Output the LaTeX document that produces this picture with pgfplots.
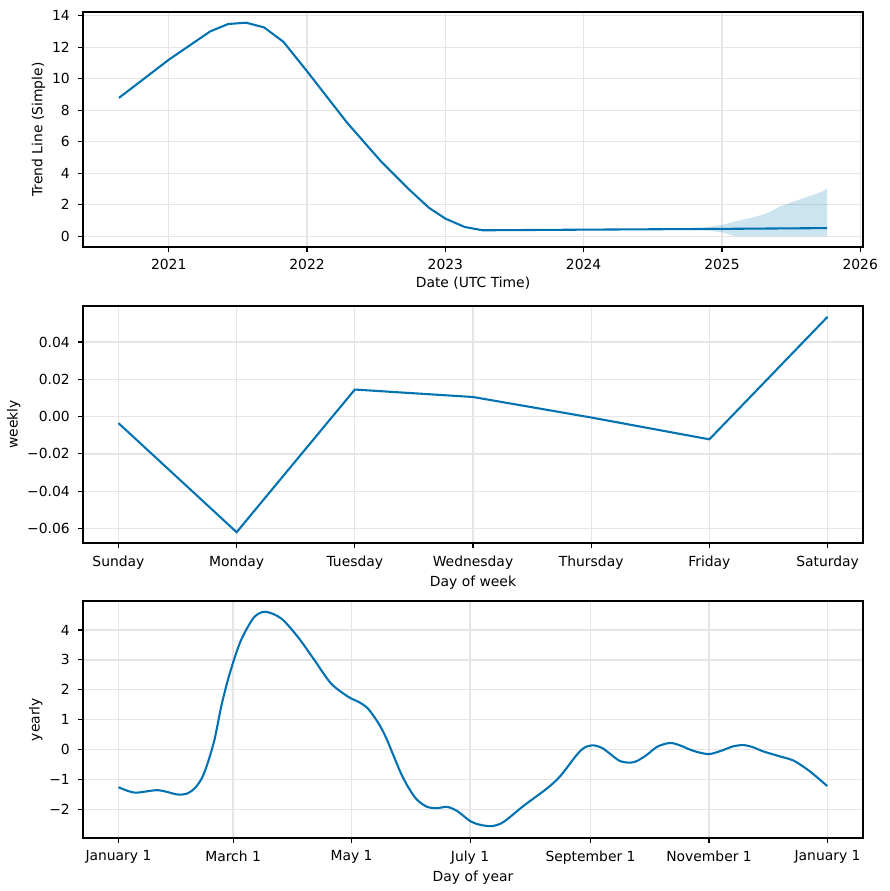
\documentclass[border=0pt]{standalone}
\usepackage{fontspec}
\setmainfont{DejaVu Sans}
\usepackage{pgfplots}
\pgfplotsset{compat=1.18}
\definecolor{pblue}{HTML}{0072B2}
\pgfplotsset{
  prophet/.style={
    scale only axis, width=561.6pt, height=170.64pt, anchor=north west,
    grid=major, major grid style={black!10, line width=0.9pt},
    axis line style={line width=0.8pt},
    tick pos=left, tick align=outside, major tick length=3.5pt,
    tick style={black, line width=0.8pt},
    /pgf/number format/assume math mode=true,
    scaled y ticks=false,
    xticklabel style={yshift=-2pt},
    yticklabel style={xshift=-2.5pt},
    xlabel style={yshift=2pt},
    ylabel style={yshift=-2pt},
  }
}
\begin{document}
\begin{tikzpicture}
\path (0,0) rectangle (640.08pt,-641.52pt);
% ---------- Trend ----------
\begin{axis}[prophet, at={(59.76pt,-8.64pt)}, height=169.2pt,
  xmin=2020.38, xmax=2026.02, ymin=-0.68, ymax=14.23,
  xtick={2021,2022,2023,2024,2025,2026},
  xticklabels={2021,2022,2023,2024,2025,2026},
  ytick={0,2,4,6,8,10,12,14},
  xlabel={Date (UTC Time)}, ylabel={Trend Line (Simple)}]
\addplot[fill=pblue, fill opacity=0.2, draw=none] coordinates {
 (2024.70,0.46) (2024.85,0.52) (2025.00,0.72) (2025.10,0.95) (2025.20,1.15)
 (2025.30,1.38) (2025.36,1.60) (2025.42,1.90) (2025.50,2.15) (2025.60,2.45)
 (2025.70,2.75) (2025.76,3.00)
 (2025.76,0.00) (2025.10,0.00) (2025.00,0.25) (2024.85,0.42) (2024.70,0.46)
} -- cycle;
\addplot[pblue, line width=1.5pt] coordinates {
 (2020.64,8.78) (2021.00,11.20) (2021.30,13.00) (2021.43,13.47) (2021.56,13.55)
 (2021.69,13.25) (2021.83,12.33) (2022.00,10.47) (2022.29,7.20) (2022.54,4.70)
 (2022.75,2.87) (2022.88,1.82) (2023.00,1.12) (2023.14,0.59) (2023.27,0.38)
 (2024.00,0.42) (2025.00,0.47) (2025.76,0.52)
};
\end{axis}
% ---------- Weekly ----------
\begin{axis}[prophet, at={(59.76pt,-220.32pt)},
  xmin=-0.3, xmax=6.3, ymin=-0.0678, ymax=0.0593,
  xtick={0,1,2,3,4,5,6},
  xticklabels={Sunday,Monday,Tuesday,Wednesday,Thursday,Friday,Saturday},
  ytick={-0.06,-0.04,-0.02,0,0.02,0.04},
  yticklabels={−0.06,−0.04,−0.02,0.00,0.02,0.04},
  xlabel={Day of week}, ylabel={weekly}]
\addplot[pblue, line width=1.5pt] coordinates {
 (0,-0.0035) (1,-0.0620) (2,0.0145) (3,0.0105) (4,-0.0005) (5,-0.0122) (6,0.0535)
};
\end{axis}
% ---------- Yearly ----------
\begin{axis}[prophet, at={(59.76pt,-432.72pt)},
  xmin=-18.25, xmax=383.25, ymin=-2.96, ymax=4.97,
  xtick={0,59,120,181,243,304,365},
  xticklabels={January 1,March 1,May 1,July 1,September 1,November 1,January 1},
  ytick={-2,-1,0,1,2,3,4},
  yticklabels={−2,−1,0,1,2,3,4},
  xlabel={Day of year}, ylabel={yearly}]
\addplot[pblue, line width=1.5pt, smooth, tension=0.5] coordinates {
 (0,-1.26) (8.4,-1.44) (20.4,-1.36) (30,-1.50) (35,-1.48) (39.2,-1.30)
 (43,-0.95) (46,-0.44) (49.5,0.35) (52.9,1.44) (56,2.25) (58.9,2.89) (61.8,3.45)
 (64.8,3.89) (70,4.44) (75.6,4.61) (83.7,4.39) (92.2,3.78) (100.8,3.00)
 (109.3,2.22) (117.9,1.78) (124,1.58) (128,1.40) (131.6,1.10) (135,0.75) (138.4,0.30)
 (145.3,-0.78) (150,-1.35) (154,-1.70) (159,-1.92) (164,-1.96) (169.3,-1.92)
 (174.4,-2.06) (181.2,-2.40) (186.3,-2.52) (192.3,-2.56) (198.3,-2.42)
 (208.6,-1.88) (220.6,-1.30) (227.4,-0.89) (236,-0.17) (240,0.07) (244.5,0.14)
 (249,0.05) (253,-0.14) (258,-0.38) (263.3,-0.44) (267,-0.38) (271.9,-0.18) (277.5,0.10)
 (283.9,0.22) (289,0.14) (294.1,0.00) (299,-0.10) (304.4,-0.15) (311.2,-0.02)
 (316,0.10) (321.5,0.15) (326.5,0.08) (331.8,-0.06) (340,-0.22) (347.2,-0.36)
 (352,-0.55) (355.7,-0.72) (360,-0.95) (364.8,-1.22)
};
\end{axis}
\end{tikzpicture}
\end{document}
